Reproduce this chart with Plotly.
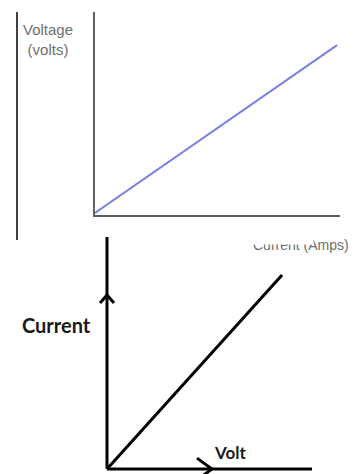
import plotly.graph_objects as go

# top diagram: voltage against current (blue straight line)
amps = [0, 9.88]
volts = [0.1, 8.37]

# bottom diagram: current against volt (black straight line)
volt_b = [0, 8.54]
current_b = [0, 8.36]

# bottom axes drawn as lines from the origin, with chevrons on them
yaxis_x = [0, 0]
yaxis_y = [0, 10]
xaxis_x = [0, 10]
xaxis_y = [0, 0]
arrow_up_x = [-0.34, 0, 0.34]
arrow_up_y = [7.16, 7.5, 7.16]
arrow_right_x = [4.39, 5.12, 4.39]
arrow_right_y = [0.47, 0, -0.47]

# the page puts an 8px body margin round the plot
off = 8

fig = go.Figure()

fig.add_trace(go.Scatter(x=amps, y=volts, mode="lines",
                         line=dict(color="#7a80e2", width=2),
                         xaxis="x", yaxis="y"))

black = dict(color="black", width=3)
for xs, ys in [(yaxis_x, yaxis_y), (xaxis_x, xaxis_y), (volt_b, current_b),
               (arrow_up_x, arrow_up_y), (arrow_right_x, arrow_right_y)]:
    fig.add_trace(go.Scatter(x=xs, y=ys, mode="lines", line=black,
                             xaxis="x2", yaxis="y2"))

ax = dict(showgrid=False, zeroline=False, showticklabels=False, ticks="",
          fixedrange=True)

fig.update_layout(
    width=358, height=474,
    margin=dict(l=0, r=0, t=0, b=0),
    paper_bgcolor="white", plot_bgcolor="white",
    showlegend=False,
    xaxis=dict(ax, range=[0, 10], domain=[87 / 358, 332 / 358], anchor="y",
               showline=True, linecolor="#5e5e5e", linewidth=2),
    yaxis=dict(ax, range=[0, 10], domain=[1 - 207 / 474, 1 - 4 / 474], anchor="x",
               showline=True, linecolor="#5e5e5e", linewidth=2),
    xaxis2=dict(ax, range=[-0.6, 10], domain=[86.7 / 358, 304 / 358], anchor="y2"),
    yaxis2=dict(ax, range=[-0.4, 10], domain=[1 - 470.3 / 474, 1 - 229 / 474], anchor="x2"),
    shapes=[dict(type="line", xref="paper", yref="paper",
                 x0=(17 - off) / 358, x1=(17 - off) / 358,
                 y0=1 - (240 - off) / 474, y1=1 - (12 - off) / 474,
                 line=dict(color="black", width=1.5))],
)


def px(x, y):
    return (x - off) / 358, 1 - (y - off) / 474


def label(text, at, font):
    x, y = px(*at)
    fig.add_annotation(text=text, xref="paper", yref="paper", x=x, y=y,
                       xanchor="center", yanchor="middle", showarrow=False,
                       font=font, align="center")


grey = dict(family="Liberation Sans", size=15, color="#6e6e6e")
dark = dict(family="Lato", color="#1a1a1a")

label("Voltage<br>(volts)", (47.5, 39.5), grey)
label("Current (Amps)", (301, 245), dict(grey, size=14))
# the lower picture overlaps the top half of that axis title
x, y = px(230, 225)
fig.add_annotation(text=" ", xref="paper", yref="paper", x=x, y=y,
                   xanchor="left", yanchor="top", showarrow=False,
                   width=82, height=18, bgcolor="white", borderpad=0)
label("<b>Current</b>", (56, 325), dict(dark, size=20))
label("<b>Volt</b>", (230, 452), dict(dark, size=17))

fig.write_html("out.html")
